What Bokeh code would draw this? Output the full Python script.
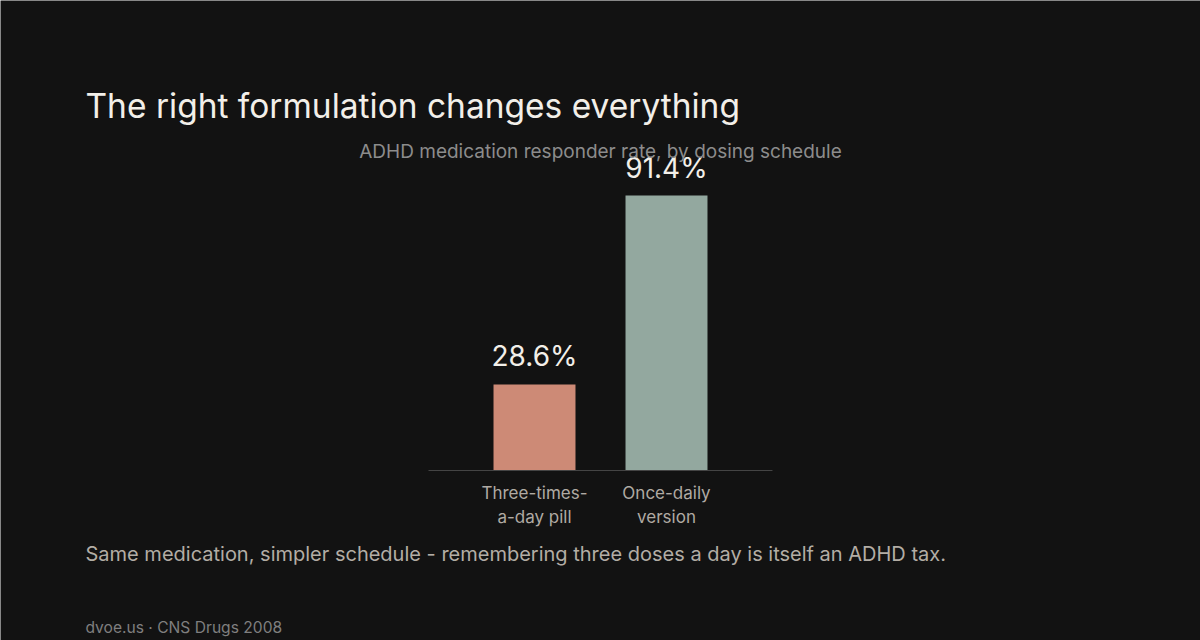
from bokeh.plotting import figure
from bokeh.models import Range1d, Label, ColumnDataSource
from bokeh.core.properties import value
from bokeh.embed import file_html
from bokeh.resources import INLINE

categories = ["Three-times-a-day pill", "Once-daily version"]
tick_labels = ["Three-times-\na-day pill", "Once-daily\nversion"]
values = [28.6, 91.4]
value_texts = ["28.6%", "91.4%"]
colors = ["#cd8a76", "#93a89f"]

title_text = "The right formulation changes everything"
subtitle_text = "ADHD medication responder rate, by dosing schedule"
caption_text = "Same medication, simpler schedule - remembering three doses a day is itself an ADHD tax."
footer_text = "dvoe.us \u00b7 CNS Drugs 2008"

FONT = "Inter"
BG = "#121212"
W, H = 1200, 640

positions = list(range(len(categories)))
src = ColumnDataSource(dict(x=positions, val=values, txt=value_texts, color=colors,
                            tick=tick_labels, zero=[0] * len(values)))

# frame covers the whole canvas; scales: 132 px per category, ~3.008 px per percent
px_x, px_y = 132.0, 3.008
x0_px, base_px = 534.0, 470.0
p = figure(
    width=W, height=H,
    x_range=Range1d(-x0_px / px_x, (W - x0_px) / px_x),
    y_range=Range1d(-(H - base_px) / px_y, base_px / px_y),
    output_backend="svg", toolbar_location=None,
    min_border=0,
)
p.background_fill_color = BG
p.border_fill_color = BG
p.outline_line_color = None
p.grid.visible = False
p.axis.visible = False

p.vbar(x="x", top="val", width=0.621, source=src, fill_color="color", line_color=None)

# baseline (axis line)
p.segment(x0=[positions[0] - 0.803], x1=[positions[-1] + 0.803], y0=[0], y1=[0],
          line_color="#444444", line_width=1)

# value labels
p.text(x="x", y="val", text="txt", source=src, text_align="center",
       text_baseline="alphabetic", y_offset=-28, text_font=value(FONT),
       text_font_size="28px", text_color="#f2efe9")

# category labels
p.text(x="x", y="zero", text="tick", source=src, text_align="center",
       text_baseline="top", y_offset=12, text_font=value(FONT),
       text_font_size="17px", text_color="#b0aaa3", text_line_height=1.2)

def add_label(text, x, y, size, color, align="left"):
    p.add_layout(Label(x=x, y=y, x_units="screen", y_units="screen", text=text,
                       text_font=FONT, text_font_size=size, text_color=color,
                       text_align=align, text_baseline="alphabetic"))

add_label(title_text, 85, H - 105, "33.5px", "#f2efe9")
add_label(subtitle_text, 600, H - 151, "19px", "#8c8c8c", align="center")
add_label(caption_text, 85, H - 553, "20px", "#b3ada5")
add_label(footer_text, 85, H - 627, "15.6px", "#7f7f7f")

open("out.html", "w").write(file_html(p, INLINE))
